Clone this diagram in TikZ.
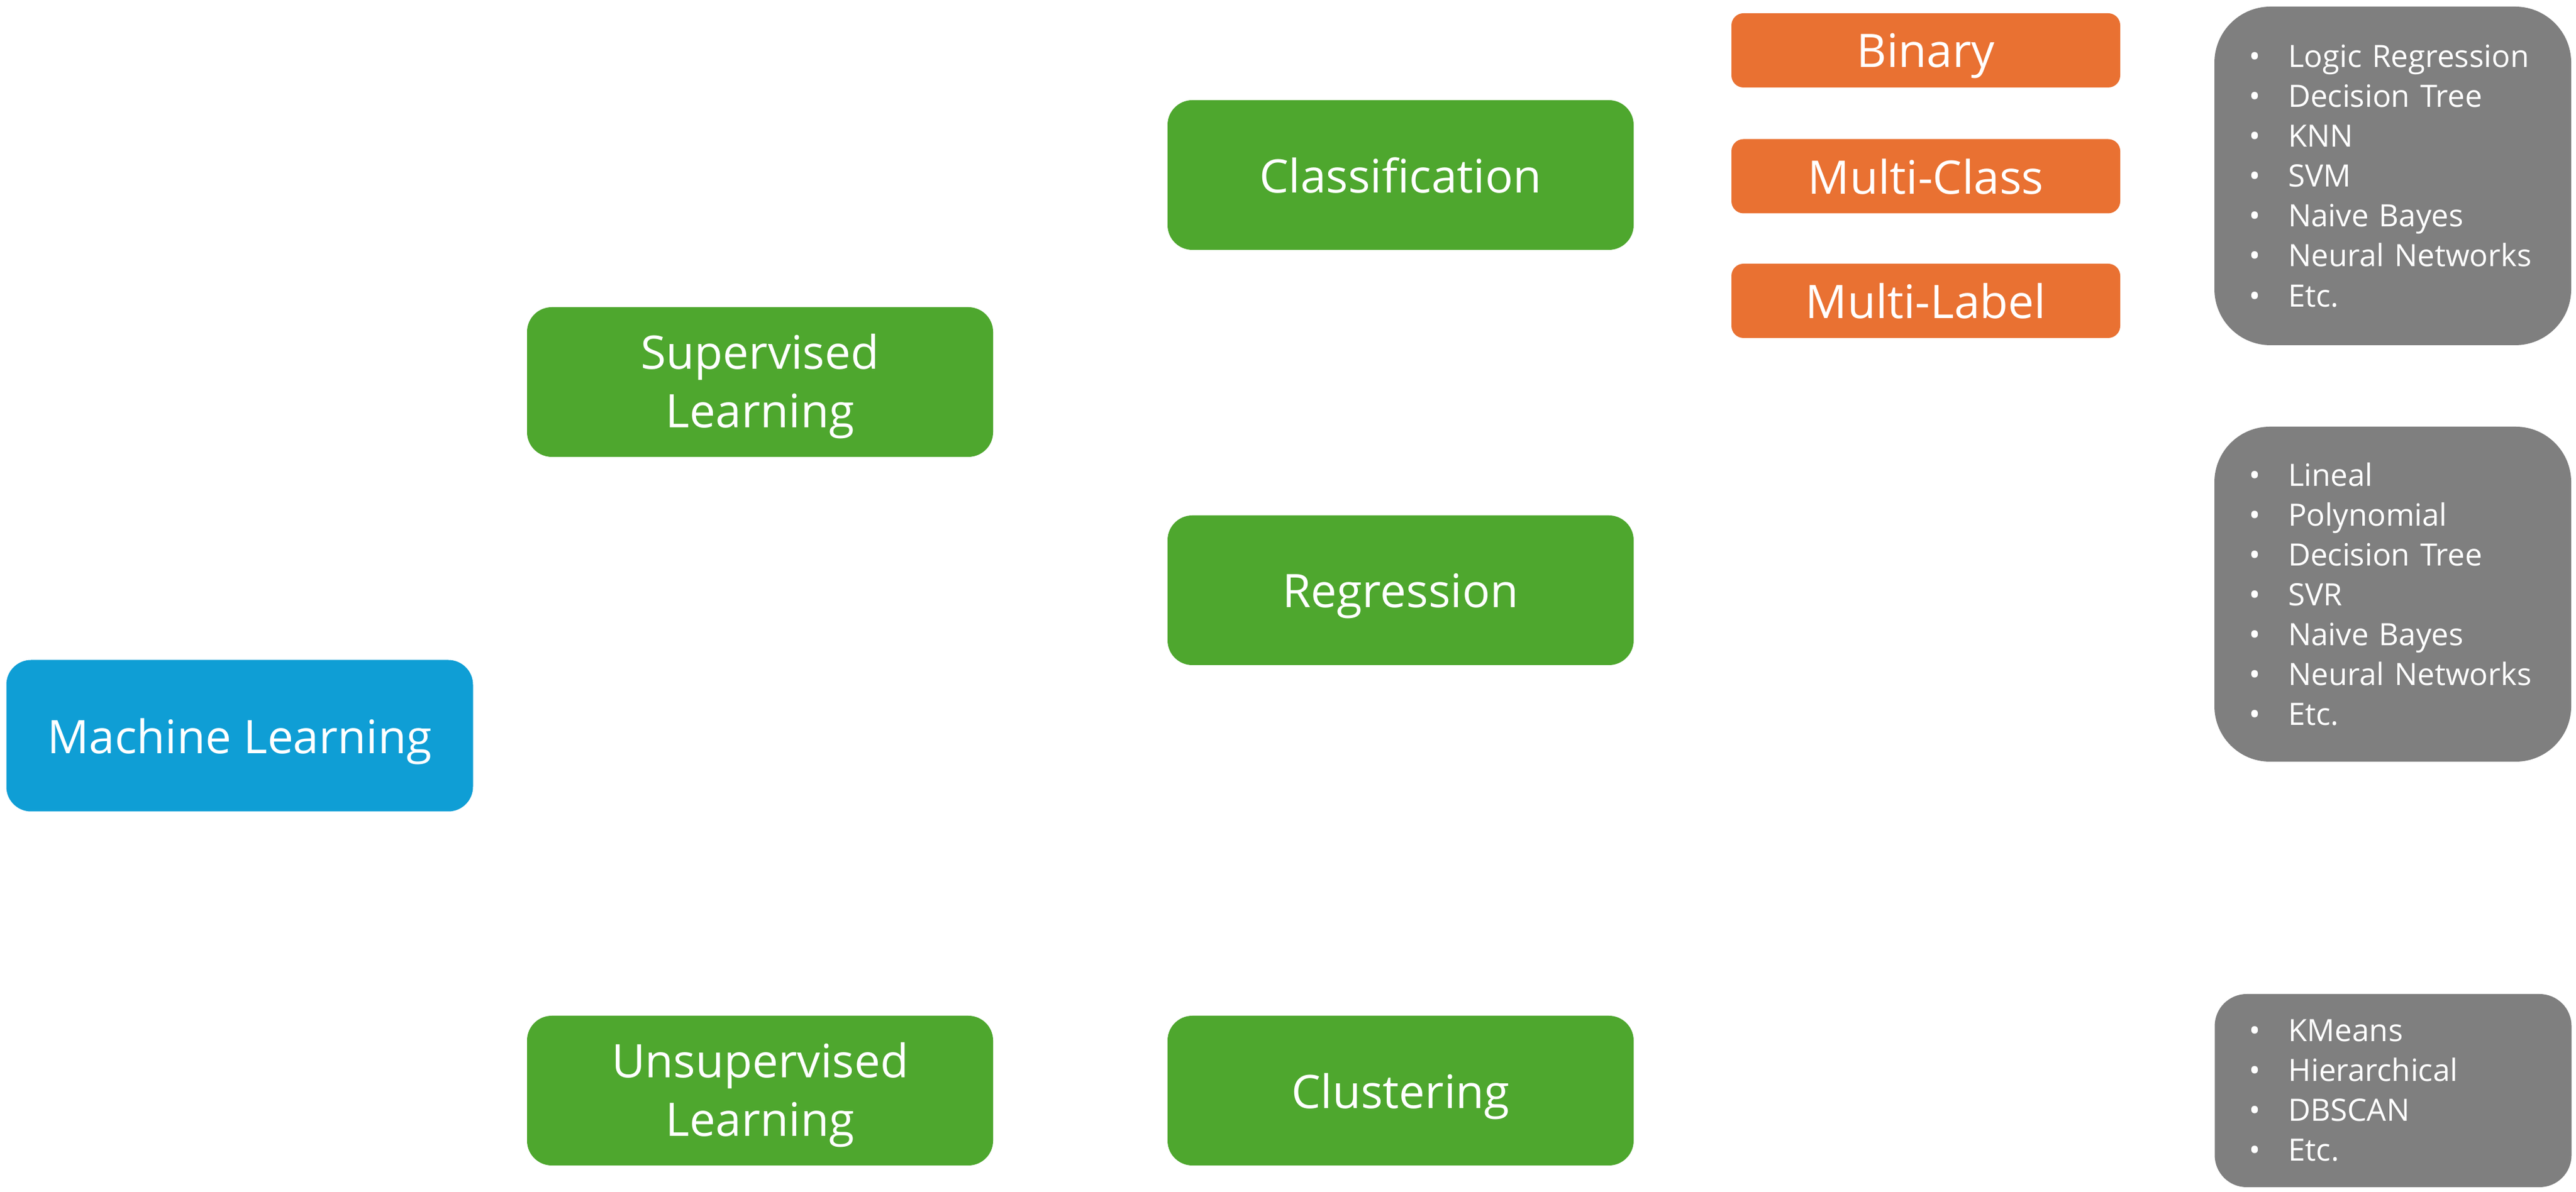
\documentclass[tikz,border=0pt]{standalone}
\usepackage{fontspec}
\setmainfont{Open Sans}
\usepackage{xcolor}
\usetikzlibrary{positioning}

\definecolor{mlblue}{HTML}{0F9ED5}
\definecolor{mlgreen}{HTML}{4EA72E}
\definecolor{mlorange}{HTML}{E97132}
\definecolor{mlgray}{HTML}{7F7F7F}

\newcommand{\boxfont}{\fontsize{21.8}{27.6}\selectfont}
\newcommand{\listfont}{\fontsize{14.5}{18.8}\selectfont}
\newcommand{\bul}{\makebox[0.65cm][l]{•}}

\begin{document}
\begin{tikzpicture}[
    root/.style={rectangle, rounded corners=0.41cm, fill=mlblue, text=white, minimum width=7.73cm, minimum height=2.51cm, align=center, font=\boxfont},
    task/.style={rectangle, rounded corners=0.41cm, fill=mlgreen, text=white, minimum width=7.72cm, minimum height=2.48cm, align=center, font=\boxfont},
    kind/.style={rectangle, rounded corners=0.2cm, fill=mlorange, text=white, minimum width=6.44cm, minimum height=1.23cm, align=center, font=\boxfont},
    algo/.style={rectangle, fill=mlgray, text=white, inner xsep=0.57cm, text width=4.77cm, align=left, font=\listfont},
    oneline/.style={text depth=0pt},
    twoline/.style={text height=43.2pt, text depth=0pt}
]
    \path[use as bounding box, fill=white] (0,0) rectangle (42.67,19.75);

    % Root
    \node[root, oneline] (ml) at (3.97,7.56) {Machine Learning};

    % Learning types
    \node[task, twoline] (sup) at (12.59,13.42) {Supervised\\Learning};
    \node[task, twoline] (unsup) at (12.59,1.68) {Unsupervised\\Learning};

    % Tasks
    \node[task, oneline] (cls) at (23.20,16.85) {Classification};
    \node[task, oneline] (reg) at (23.20,9.97) {Regression};
    \node[task, oneline] (clu) at (23.20,1.68) {Clustering};

    % Classification kinds
    \node[kind, oneline] (bin) at (31.90,18.915) {Binary};
    \node[kind, oneline] (mcls) at (31.90,16.83) {Multi-Class};
    \node[kind, oneline] (mlab) at (31.90,14.765) {Multi-Label};

    % Algorithms
    \node[algo, rounded corners=0.93cm, minimum height=5.61cm] (clsalg) at (39.635,16.835) {\bul Logic Regression\\\bul Decision Tree\\\bul KNN\\\bul SVM\\\bul Naive Bayes\\\bul Neural Networks\\\bul Etc.};
    \node[algo, rounded corners=0.92cm, minimum height=5.55cm] (regalg) at (39.635,9.905) {\bul Lineal\\\bul Polynomial\\\bul Decision Tree\\\bul SVR\\\bul Naive Bayes\\\bul Neural Networks\\\bul Etc.};
    \node[algo, rounded corners=0.53cm, minimum height=3.20cm] (clualg) at (39.64,1.68) {\bul KMeans\\\bul Hierarchical\\\bul DBSCAN\\\bul Etc.};
\end{tikzpicture}
\end{document}
